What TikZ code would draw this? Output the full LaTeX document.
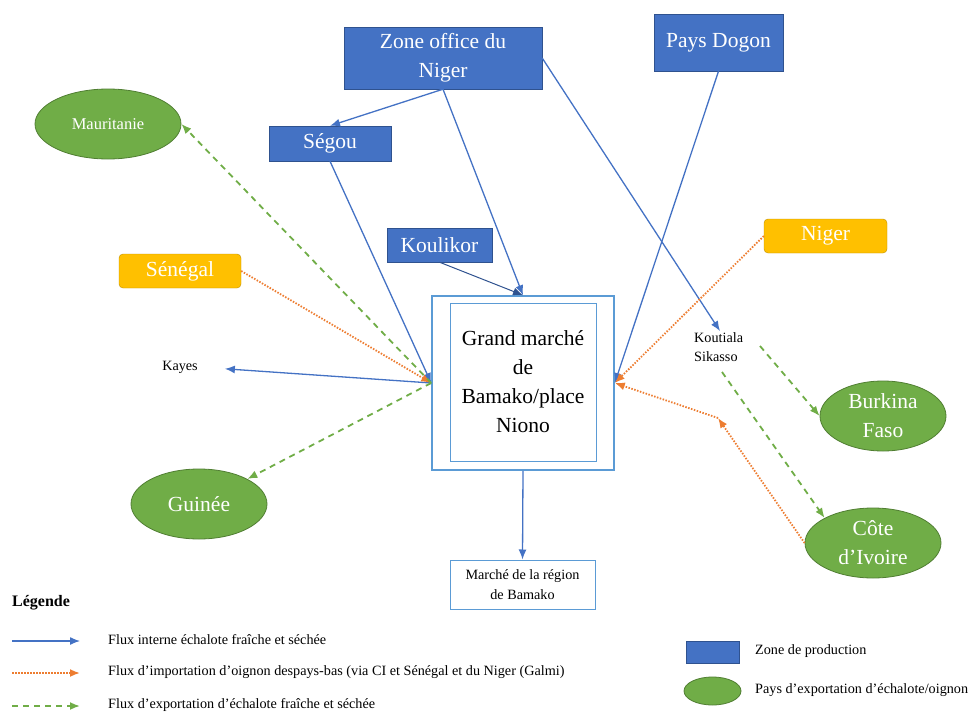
\documentclass[tikz,border=0pt]{standalone}
\usepackage{fontspec}
\setmainfont{Liberation Serif}
\usetikzlibrary{shapes.geometric,arrows.meta}
\definecolor{zoneblue}{HTML}{4472C4}
\definecolor{zoneedge}{HTML}{2F528F}
\definecolor{paysgreen}{HTML}{70AD47}
\definecolor{paysedge}{HTML}{507E32}
\definecolor{jaune}{HTML}{FFC000}
\definecolor{jauneedge}{HTML}{BF9000}
\definecolor{fluxorange}{HTML}{ED7D31}
\definecolor{marcheblue}{HTML}{5B9BD5}
\newcommand{\grand}{\fontsize{21.5}{29}\selectfont}
\newcommand{\petit}{\fontsize{14.2}{19.5}\selectfont}
\tikzset{
  prod/.style={draw=zoneedge, fill=zoneblue, text=white, font=\grand, align=center, inner sep=0pt},
  pays/.style={ellipse, draw=paysedge, fill=paysgreen, text=white, font=\grand, align=center, inner sep=0pt, line width=.8pt},
  impo/.style={draw=jauneedge, fill=jaune, text=white, font=\grand, rounded corners=4pt, inner sep=0pt},
  ville/.style={font=\petit, align=left, inner sep=1pt},
  interne/.style={->, draw=zoneblue, line width=1.3pt},
  import/.style={->, draw=fluxorange, line width=1.8pt, dash pattern=on 1.5pt off 1.5pt},
  export/.style={->, draw=paysgreen, line width=1.8pt, dash pattern=on 6pt off 5pt}
}
\begin{document}
\begin{tikzpicture}[>={Latex[length=10pt,width=8pt]}, x=1pt, y=-1pt]
\useasboundingbox (0,0) rectangle (978,712);
% zones de production
\node[prod, minimum width=198pt, minimum height=62pt] (zon) at (443,58) {Zone office du\\Niger};
\node[prod, minimum width=129pt, minimum height=57pt] (dogon) at (718.5,42.5) {Pays Dogon};
\node[prod, minimum width=122pt, minimum height=35pt] (seg) at (330,143.5) {Ségou};
\node[prod, minimum width=105pt, minimum height=34pt] (kou) at (439.5,245) {Koulikor};
% pays
\node[pays, minimum width=146pt, minimum height=70pt, font=\fontsize{16.5}{20}\selectfont] (mau) at (108,124) {Mauritanie};
\node[pays, minimum width=136pt, minimum height=70pt] (gui) at (199,504) {Guinée};
\node[pays, minimum width=126pt, minimum height=70pt] (bur) at (883,416) {Burkina\\Faso};
\node[pays, minimum width=136pt, minimum height=70pt] (civ) at (873,543) {Côte\\d’Ivoire};
\node[impo, minimum width=122pt, minimum height=34pt] (sen) at (180,271) {Sénégal};
\node[impo, minimum width=123pt, minimum height=34pt] (nig) at (825.5,236) {Niger};
% villes
\node[ville] (kayes) at (180,367) {Kayes};
\node[ville, anchor=west] (kout) at (693,347) {Koutiala\\Sikasso};
% marches
\node[draw=marcheblue, line width=1.6pt, minimum width=182pt, minimum height=174pt] (gm) at (523,383) {};
\node[draw=marcheblue, line width=.9pt, minimum width=146pt, minimum height=158pt, font=\grand, align=center] (gmin) at (523,382) {Grand marché\\de\\Bamako/place\\Niono};
\node[draw=marcheblue, line width=1pt, minimum width=145pt, minimum height=49pt, font=\petit, align=center] (reg) at (522.5,584.5) {Marché de la région\\de Bamako};
\coordinate (relai) at (718,418);
\coordinate (kb) at (760,346);
\coordinate (kc) at (722,372);

% flux interne
\draw[interne] (zon.south) -- (seg.north);
\draw[interne] (zon.south) -- (gm.north);
\draw[interne] (zon.east) -- (kout.north -| 720,0);
\draw[interne] (dogon.south) -- (gm.east);
\draw[interne] (seg.south) -- (gm.west);
\draw[interne, draw=zoneedge, line width=1pt] (kou.south) -- (gm.north);
\draw[interne, shorten >=26pt] (gm.west) -- (kayes.east);
\draw[interne] (gm.south) -- (reg.north);
% flux importation
\draw[import] (sen.east) -- (gm.west);
\draw[import] (nig.west) -- (gm.east);
\draw[import] (civ.west) -- (relai);
\draw[import] (relai) -- (gm.east);
% flux exportation
\draw[export] (gm.west) -- (mau.east);
\draw[export] (gm.west) -- (gui.north east);
\draw[export] (kb) -- (bur.west);
\draw[export] (kc) -- (civ.north west);

% legende
\node[font=\bfseries\fontsize{16}{19}\selectfont, anchor=west, inner sep=0pt] (leg) at (12,603) {Légende};
\foreach \y/\fl/\txt in {641/interne/{Flux interne échalote fraîche et séchée},
                         673/import/{Flux d’importation d’oignon despays-bas (via CI et Sénégal et du Niger (Galmi)},
                         706/export/{Flux d’exportation d’échalote fraîche et séchée}}
{
    \draw[\fl] (12,\y) coordinate (a\y) -- (80,\y) coordinate (b\y);
    \node[font=\petit, anchor=west, inner sep=0pt] (t\y) at (108,\y-1) {\txt};
}
\node[prod, minimum width=53pt, minimum height=22pt] (lprod) at (712.5,652) {};
\node[pays, minimum width=57pt, minimum height=28pt] (lpays) at (712.5,691) {};
\node[font=\petit, anchor=west, inner sep=0pt] (tprod) at (755,651) {Zone de production};
\node[font=\petit, anchor=west, inner sep=0pt] (tpays) at (755,690) {Pays d’exportation d’échalote/oignon};
\end{tikzpicture}
\end{document}
